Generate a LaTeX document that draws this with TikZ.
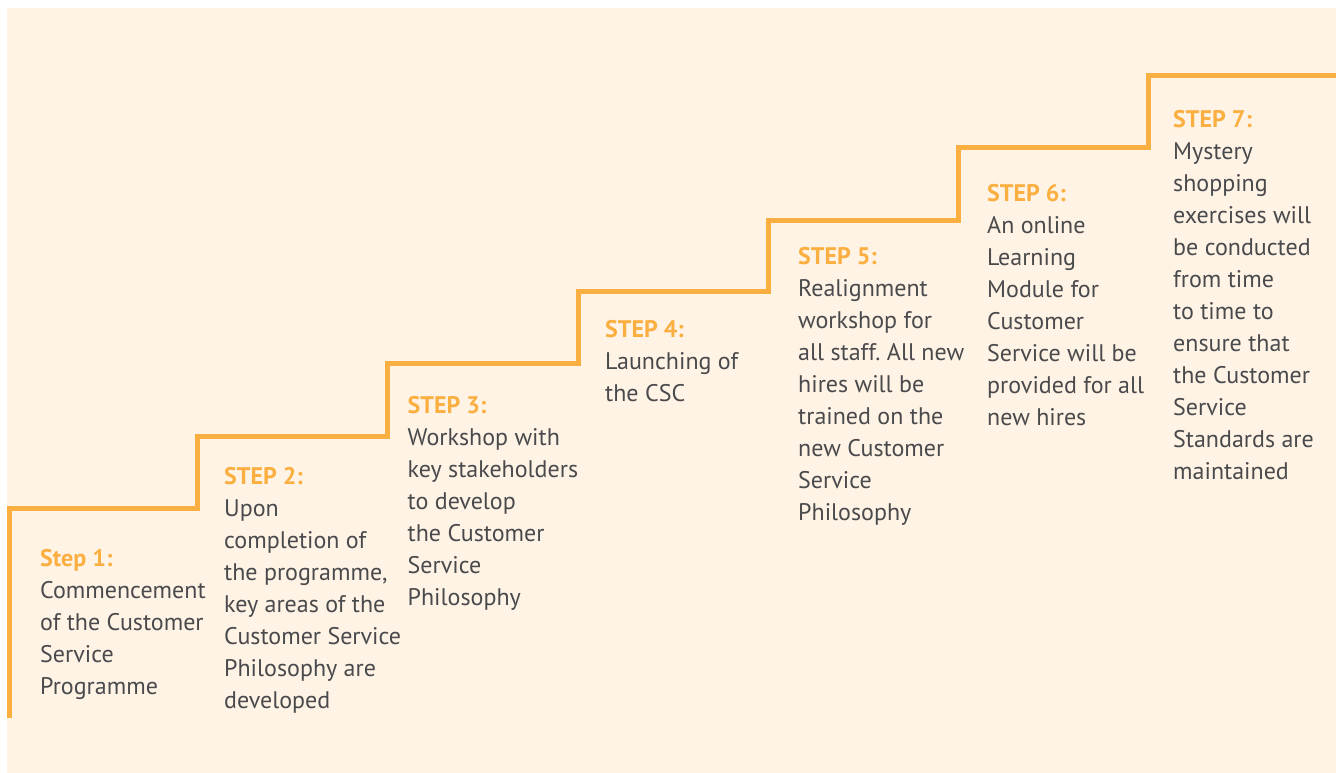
\documentclass[tikz,border=0pt]{standalone}
\usepackage{fontspec}
\setmainfont{PT Sans}
\frenchspacing
\definecolor{stairorange}{HTML}{FCAF41}
\definecolor{bodygray}{HTML}{4A4A4C}
\definecolor{cream}{HTML}{FEF3E5}
\begin{document}
\begin{tikzpicture}[x=1pt,y=-1pt,
  stairline/.style={draw=stairorange,line width=5pt,line join=miter},
  steptext/.style={anchor=base west,align=left,inner sep=0pt,text=bodygray,
    font=\fontsize{24}{32}\selectfont}]
\useasboundingbox (0,0) rectangle (1336,773);
\fill[white] (0,0) rectangle (1336,773);
\fill[cream] (7,8) rectangle (1336,773);
% stair coordinates
\coordinate (s0) at (9.5,718);
\coordinate (s1) at (9.5,508.5);
\coordinate (s2) at (197.5,508.5);
\coordinate (s3) at (197.5,436.5);
\coordinate (s4) at (387,436.5);
\coordinate (s5) at (387,363);
\coordinate (s6) at (578,363);
\coordinate (s7) at (578,291);
\coordinate (s8) at (768,291);
\coordinate (s9) at (768,220);
\coordinate (s10) at (958,220);
\coordinate (s11) at (958,148);
\coordinate (s12) at (1148,148);
\coordinate (s13) at (1148,75.5);
\coordinate (s14) at (1336,75.5);
\draw[stairline] (s0) -- (s1) -- (s2) -- (s3) -- (s4) -- (s5) -- (s6) -- (s7) -- (s8) -- (s9) -- (s10) -- (s11) -- (s12) -- (s13) -- (s14);
% base anchor = baseline of the last line (first baseline + 32*(lines-1))
\node[steptext] (t1) at (40,694) {{\color{stairorange}\bfseries Step 1:}\\Commencement\\of the Customer\\Service\\Programme};
\node[steptext] (t2) at (224,708) {{\color{stairorange}\bfseries STEP 2:}\\Upon\\completion of\\the programme,\\key areas of the\\Customer Service\\Philosophy are\\developed};
\node[steptext] (t3) at (407.5,605) {{\color{stairorange}\bfseries STEP 3:}\\Workshop with\\key stakeholders\\to develop\\the Customer\\Service\\Philosophy};
\node[steptext] (t4) at (605,401) {{\color{stairorange}\bfseries STEP 4:}\\Launching of\\the CSC};
\node[steptext] (t5) at (798,520) {{\color{stairorange}\bfseries STEP 5:}\\Realignment\\workshop for\\all staff. All new\\hires will be\\trained on the\\new Customer\\Service\\Philosophy};
\node[steptext] (t6) at (987,425) {{\color{stairorange}\bfseries STEP 6:}\\An online\\Learning\\Module for\\Customer\\Service will be\\provided for all\\new hires};
\node[steptext] (t7) at (1173,479.5) {{\color{stairorange}\bfseries STEP 7:}\\Mystery\\shopping\\exercises will\\be conducted\\from time\\to time to\\ensure that\\the Customer\\Service\\Standards are\\maintained};
\end{tikzpicture}
\end{document}
